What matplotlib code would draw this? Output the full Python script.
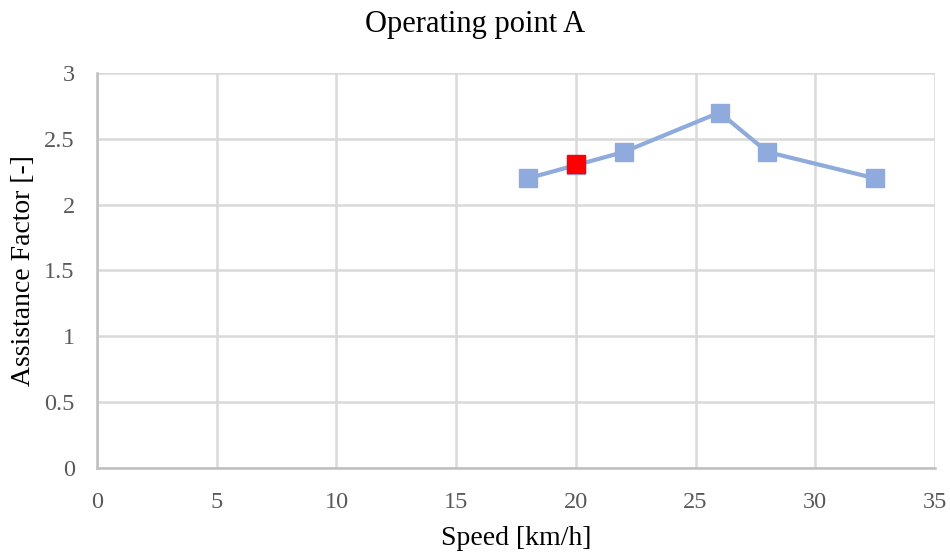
import matplotlib.pyplot as plt

# data
speed = [18, 20, 22, 26, 28, 32.5]
factor = [2.2, 2.3, 2.4, 2.7, 2.4, 2.2]
op_speed = [20]
op_factor = [2.31]

plt.rcParams['font.family'] = ['Liberation Serif', 'DejaVu Serif']

fig = plt.figure(figsize=(9.5, 5.56), dpi=100)
ax = fig.add_axes([0.1021, 0.1583, 0.8821, 0.7104])

ax.plot(speed, factor, color='#8FAADC', lw=3, marker='s', ms=12.5,
        markerfacecolor='#8FAADC', markeredgecolor='#8FAADC', zorder=3)
ax.plot(op_speed, op_factor, ls='none', marker='s', ms=12.5,
        markerfacecolor='#FF0000', markeredgecolor='#FF0000', zorder=4)

ax.set_xlim(0, 35)
ax.set_ylim(0, 3)
ax.set_xticks(range(0, 36, 5))
ax.set_yticks([0, 0.5, 1, 1.5, 2, 2.5, 3])
ax.set_yticklabels(['0', '0.5', '1', '1.5', '2', '2.5', '3'])

ax.grid(True, color='#D9D9D9', lw=1.8)
ax.set_axisbelow(True)
for side in ['top', 'right']:
    ax.spines[side].set_visible(False)
for side in ['left', 'bottom']:
    ax.spines[side].set_color('#BFBFBF')
    ax.spines[side].set_linewidth(1.8)
ax.tick_params(length=0, labelsize=17.5, labelcolor='#595959')
ax.tick_params(axis='x', pad=17)
ax.tick_params(axis='y', pad=16)

ax.set_xlabel('Speed [km/h]', fontsize=20, labelpad=10)
ax.set_ylabel('Assistance Factor [-]', fontsize=20, labelpad=6)
fig.text(0.5, 0.942, 'Operating point A', ha='center', va='baseline', fontsize=22)

fig.savefig('out.png', dpi=100)
